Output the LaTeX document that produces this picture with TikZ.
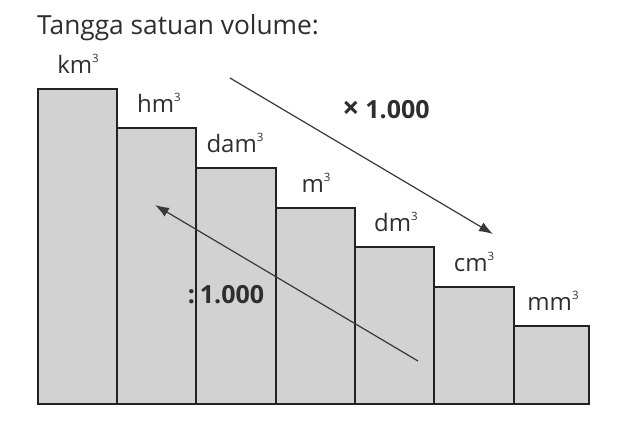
\documentclass[tikz,border=0pt]{standalone}
\usepackage{fontspec}
\setmainfont{Open Sans}
\usetikzlibrary{arrows.meta}
\definecolor{barfill}{HTML}{D2D2D2}
\definecolor{ink}{HTML}{222222}
\definecolor{txt}{HTML}{2E2E2E}
\newcommand{\cubed}{\raisebox{0.8ex}{\fontsize{11.5}{11.5}\selectfont 3}}
\newcommand{\bigtimes}{{\fontsize{30}{30}\selectfont ×}}
\tikzset{
  bar/.style={draw=ink, fill=barfill, line width=2pt},
  lbl/.style={anchor=base, text=txt, inner sep=0pt, font=\fontsize{24}{27}\selectfont},
  fac/.style={anchor=base, text=txt, inner sep=0pt, font=\fontsize{25}{28}\selectfont\bfseries},
  conv/.style={draw=ink!90, line width=1.2pt, -{Latex[length=14pt,width=10pt]}},
}
\begin{document}
\begin{tikzpicture}[x=1pt,y=-1pt]
\useasboundingbox (0,0) rectangle (620,447);
\node[anchor=base west, text=txt, inner sep=0pt, font=\fontsize{26.3}{29}\selectfont] (title) at (37,34) {Tangga satuan volume:};
% bars
\path[bar] (38,89) rectangle (117,404);
\path[bar] (117,128) rectangle (196,404);
\path[bar] (196,168) rectangle (276,404);
\path[bar] (276,208) rectangle (355,404);
\path[bar] (355,247) rectangle (434,404);
\path[bar] (434,287) rectangle (514,404);
\path[bar] (514,326) rectangle (589,404);
% labels
\node[lbl] (km) at (78,73) {km\cubed};
\node[lbl] (hm) at (159,112) {hm\cubed};
\node[lbl] (dam) at (235,152) {dam\cubed};
\node[lbl] (m) at (316,192) {m\cubed};
\node[lbl] (dm) at (396,231) {dm\cubed};
\node[lbl] (cm) at (474,271) {cm\cubed};
\node[lbl] (mm) at (553,310) {mm\cubed};
% factors
\node[fac] (times) at (386,118) {\bigtimes\hspace{6pt}1.000};
\node[fac] (div) at (226,303) {:\hspace{5pt}1.000};
% arrows
\coordinate (a1s) at (230,78);
\coordinate (a1e) at (493,234);
\coordinate (a2s) at (418,361);
\coordinate (a2e) at (155,205);
\draw[conv] (a1s) -- (a1e);
\draw[conv] (a2s) -- (a2e);
\end{tikzpicture}
\end{document}
